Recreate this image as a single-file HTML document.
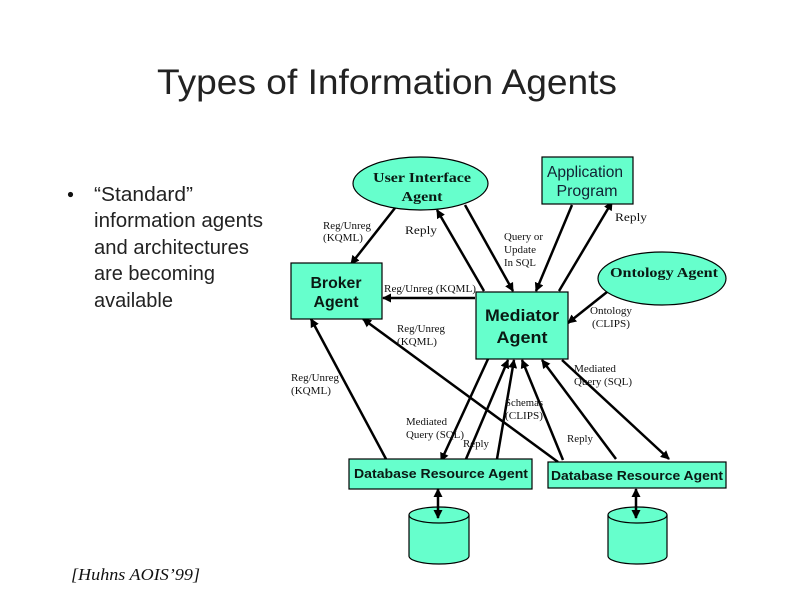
<!DOCTYPE html>
<html>
<head>
<meta charset="utf-8">
<style>
html,body{margin:0;padding:0;background:#fff;width:792px;height:612px;overflow:hidden}
svg{display:block}
.t{font-family:"Liberation Serif",serif;font-size:10.5px;fill:#111}
.b{font-family:"Liberation Sans",sans-serif;font-size:20px;fill:#222}
.nb{font-family:"Liberation Sans",sans-serif;font-weight:bold;fill:#0a1a14}
.ns{font-family:"Liberation Serif",serif;font-weight:bold;fill:#0a1a14;font-size:14px}
.n{fill:#66FFCC;stroke:#000;stroke-width:1.2}
.a{stroke:#000;stroke-width:2.5;fill:none;marker-end:url(#h)}
.d{stroke:#000;stroke-width:2.5;fill:none;marker-end:url(#h);marker-start:url(#hs)}
</style>
</head>
<body>
<svg width="792" height="612" viewBox="0 0 792 612" xmlns="http://www.w3.org/2000/svg">
<defs>
<marker id="h" markerUnits="userSpaceOnUse" markerWidth="10" markerHeight="10" refX="8" refY="4.5" orient="auto"><path d="M0 0L9 4.5L0 9Z" fill="#000"/></marker>
<marker id="hs" markerUnits="userSpaceOnUse" markerWidth="10" markerHeight="10" refX="1" refY="4.5" orient="auto"><path d="M9 0L0 4.5L9 9Z" fill="#000"/></marker>
</defs>
<rect width="792" height="612" fill="#fff"/>

<text x="157" y="94" font-family="Liberation Sans, sans-serif" font-size="35" fill="#222" textLength="460" lengthAdjust="spacingAndGlyphs">Types of Information Agents</text>

<circle cx="70.5" cy="194.5" r="2.6" fill="#111"/>
<text class="b" x="94" y="201" textLength="99" lengthAdjust="spacingAndGlyphs">“Standard”</text>
<text class="b" x="94" y="227" textLength="169" lengthAdjust="spacingAndGlyphs">information agents</text>
<text class="b" x="94" y="254" textLength="155" lengthAdjust="spacingAndGlyphs">and architectures</text>
<text class="b" x="94" y="280" textLength="121" lengthAdjust="spacingAndGlyphs">are becoming</text>
<text class="b" x="94" y="307" textLength="79" lengthAdjust="spacingAndGlyphs">available</text>

<text x="71" y="580" font-family="Liberation Serif, serif" font-style="italic" font-size="17" fill="#111" textLength="129" lengthAdjust="spacingAndGlyphs">[Huhns AOIS’99]</text>

<!-- connectors -->
<line class="a" x1="395" y1="208" x2="351" y2="264"/>
<line class="a" x1="484" y1="291" x2="437" y2="210"/>
<line class="a" x1="465" y1="205" x2="513" y2="291"/>
<line class="a" x1="572" y1="205" x2="536" y2="291"/>
<line class="a" x1="559" y1="291" x2="612" y2="202"/>
<line class="a" x1="607" y1="292" x2="568" y2="323"/>
<line class="a" x1="475" y1="298" x2="383" y2="298"/>
<line class="a" x1="386" y1="459" x2="311" y2="319"/>
<line class="a" x1="558" y1="462" x2="363" y2="319"/>
<line class="a" x1="488" y1="359" x2="441" y2="461"/>
<line class="a" x1="466" y1="459" x2="508" y2="360"/>
<line class="a" x1="497" y1="459" x2="514" y2="360"/>
<line class="a" x1="563" y1="460" x2="522" y2="360"/>
<line class="a" x1="616" y1="459" x2="542" y2="360"/>
<line class="a" x1="562" y1="360" x2="669" y2="459"/>

<!-- nodes -->
<ellipse class="n" cx="420.5" cy="183.5" rx="67.5" ry="26.5"/>
<text class="ns" x="422" y="182" text-anchor="middle" textLength="98" lengthAdjust="spacingAndGlyphs">User Interface</text>
<text class="ns" x="422" y="201" text-anchor="middle" textLength="41" lengthAdjust="spacingAndGlyphs">Agent</text>

<rect class="n" x="542" y="157" width="91" height="47"/>
<text x="585" y="177" text-anchor="middle" font-family="Liberation Sans, sans-serif" font-size="16" fill="#123" textLength="76" lengthAdjust="spacingAndGlyphs">Application</text>
<text x="587" y="196" text-anchor="middle" font-family="Liberation Sans, sans-serif" font-size="16" fill="#123" textLength="61" lengthAdjust="spacingAndGlyphs">Program</text>

<rect class="n" x="291" y="263" width="91" height="56"/>
<text class="nb" x="336" y="288" text-anchor="middle" font-size="16" textLength="51" lengthAdjust="spacingAndGlyphs">Broker</text>
<text class="nb" x="336" y="307" text-anchor="middle" font-size="16" textLength="45" lengthAdjust="spacingAndGlyphs">Agent</text>

<ellipse class="n" cx="662" cy="278.5" rx="64" ry="26.5"/>
<text class="ns" x="664" y="277" text-anchor="middle" textLength="108" lengthAdjust="spacingAndGlyphs">Ontology Agent</text>

<rect class="n" x="476" y="292" width="92" height="67"/>
<text class="nb" x="522" y="321" text-anchor="middle" font-size="17" textLength="74" lengthAdjust="spacingAndGlyphs">Mediator</text>
<text class="nb" x="522" y="343" text-anchor="middle" font-size="17" textLength="51" lengthAdjust="spacingAndGlyphs">Agent</text>

<rect class="n" x="349" y="459" width="183" height="30"/>
<text class="nb" x="441" y="478" text-anchor="middle" font-size="13" textLength="174" lengthAdjust="spacingAndGlyphs">Database Resource Agent</text>

<rect class="n" x="548" y="462" width="178" height="26"/>
<text class="nb" x="637" y="480" text-anchor="middle" font-size="13" textLength="172" lengthAdjust="spacingAndGlyphs">Database Resource Agent</text>

<!-- cylinders -->
<path class="n" d="M409 515V556A30 8 0 0 0 469 556V515A30 8 0 0 0 409 515Z"/>
<path d="M409 515A30 8 0 0 0 469 515" fill="none" stroke="#000" stroke-width="1.2"/>
<path class="n" d="M608 515V556A29.5 8 0 0 0 667 556V515A29.5 8 0 0 0 608 515Z"/>
<path d="M608 515A29.5 8 0 0 0 667 515" fill="none" stroke="#000" stroke-width="1.2"/>
<line class="d" x1="438" y1="489" x2="438" y2="518"/>
<line class="d" x1="636" y1="489" x2="636" y2="518"/>

<!-- labels -->
<text class="t" x="323" y="229" textLength="48" lengthAdjust="spacingAndGlyphs">Reg/Unreg</text>
<text class="t" x="323" y="241" textLength="40" lengthAdjust="spacingAndGlyphs">(KQML)</text>
<text class="t" x="405" y="234" style="font-size:12px" textLength="32" lengthAdjust="spacingAndGlyphs">Reply</text>
<text class="t" x="504" y="240" textLength="39" lengthAdjust="spacingAndGlyphs">Query or</text>
<text class="t" x="504" y="253" textLength="32" lengthAdjust="spacingAndGlyphs">Update</text>
<text class="t" x="504" y="266" textLength="32" lengthAdjust="spacingAndGlyphs">In SQL</text>
<text class="t" x="615" y="221" style="font-size:12px" textLength="32" lengthAdjust="spacingAndGlyphs">Reply</text>
<text class="t" x="384" y="292" style="font-size:11px" textLength="92" lengthAdjust="spacingAndGlyphs">Reg/Unreg (KQML)</text>
<text class="t" x="397" y="332" textLength="48" lengthAdjust="spacingAndGlyphs">Reg/Unreg</text>
<text class="t" x="397" y="345" textLength="40" lengthAdjust="spacingAndGlyphs">(KQML)</text>
<text class="t" x="590" y="314" textLength="42" lengthAdjust="spacingAndGlyphs">Ontology</text>
<text class="t" x="592" y="327" textLength="38" lengthAdjust="spacingAndGlyphs">(CLIPS)</text>
<text class="t" x="574" y="372" textLength="42" lengthAdjust="spacingAndGlyphs">Mediated</text>
<text class="t" x="574" y="385" textLength="58" lengthAdjust="spacingAndGlyphs">Query (SQL)</text>
<text class="t" x="291" y="381" textLength="48" lengthAdjust="spacingAndGlyphs">Reg/Unreg</text>
<text class="t" x="291" y="394" textLength="40" lengthAdjust="spacingAndGlyphs">(KQML)</text>
<text class="t" x="505" y="406" textLength="38" lengthAdjust="spacingAndGlyphs">Schemas</text>
<text class="t" x="505" y="419" textLength="38" lengthAdjust="spacingAndGlyphs">(CLIPS)</text>
<text class="t" x="406" y="425" textLength="41" lengthAdjust="spacingAndGlyphs">Mediated</text>
<text class="t" x="406" y="438" textLength="58" lengthAdjust="spacingAndGlyphs">Query (SQL)</text>
<text class="t" x="463" y="447" textLength="26" lengthAdjust="spacingAndGlyphs">Reply</text>
<text class="t" x="567" y="442" textLength="26" lengthAdjust="spacingAndGlyphs">Reply</text>
</svg>
</body>
</html>
